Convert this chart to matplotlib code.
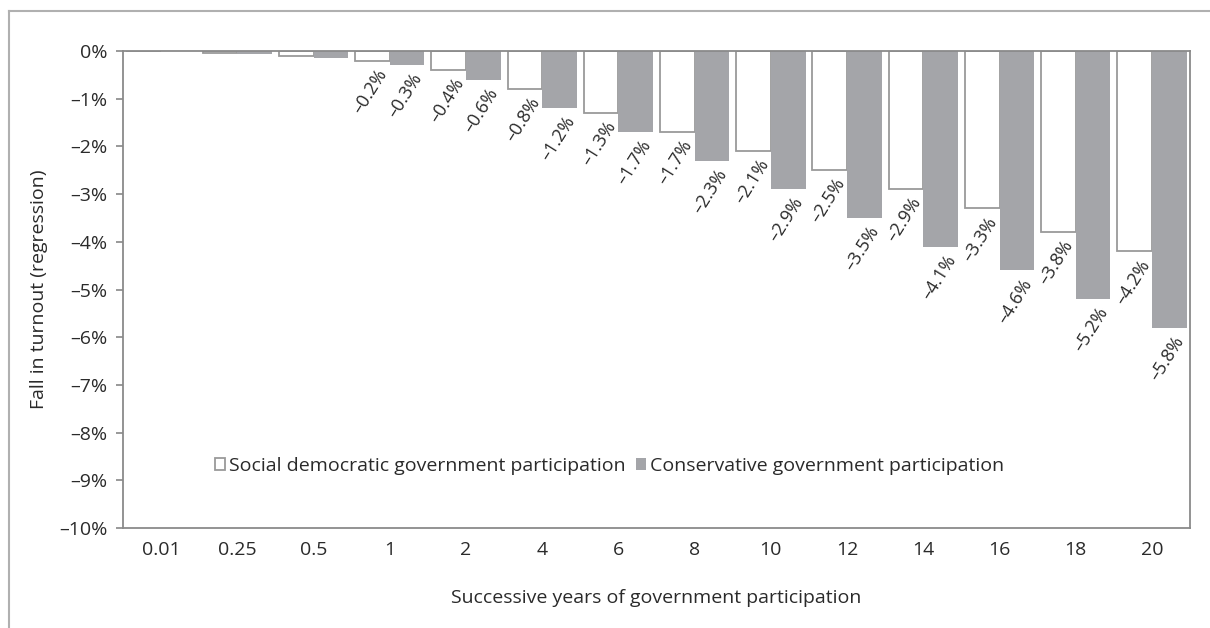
import matplotlib
matplotlib.use('Agg')
import matplotlib.pyplot as plt
import numpy as np
from matplotlib.lines import Line2D
from matplotlib.ticker import FixedLocator, FuncFormatter

plt.rcParams['font.family'] = ['Open Sans', 'DejaVu Sans']

years = ['0.01', '0.25', '0.5', '1', '2', '4', '6', '8', '10', '12', '14', '16', '18', '20']
social_dem = [-0.002, -0.05, -0.1, -0.2, -0.4, -0.8, -1.3, -1.7, -2.1, -2.5, -2.9, -3.3, -3.8, -4.2]
conservative = [-0.003, -0.07, -0.15, -0.3, -0.6, -1.2, -1.7, -2.3, -2.9, -3.5, -4.1, -4.6, -5.2, -5.8]
first_labelled = 3  # the tiny bars at 0.01/0.25/0.5 years carry no label

fs = 14
gray_fill = '#a4a5a9'
edge = '#9a9a9a'
txt = '#2a2a2a'

fig = plt.figure(figsize=(12.1, 6.28), dpi=100)
ax = fig.add_axes([0.1017, 0.1592, 0.8818, 0.7596])

x = np.arange(len(years))
w = 0.455
ax.bar(x - w / 2, social_dem, width=w, color='white', edgecolor=edge, linewidth=1.3,
       label='Social democratic government participation')
ax.bar(x + w / 2, conservative, width=w, color=gray_fill, edgecolor='none',
       label='Conservative government participation')

def pct(v):
    s = '%.1f%%' % abs(v)
    return ('\u2013' + s) if v < 0 else s

for i in range(first_labelled, len(years)):
    for xc, v in ((x[i] - w / 2, social_dem[i]), (x[i] + w / 2, conservative[i])):
        ax.annotate(pct(v), xy=(xc, v), xytext=(8, -7), textcoords='offset points',
                    rotation=58, rotation_mode='anchor', ha='right', va='center',
                    fontsize=fs - 1, color=txt)

ax.set_xlim(-0.5, len(years) - 0.5)
ax.set_ylim(-10, 0)
ax.yaxis.set_major_locator(FixedLocator(np.arange(-10, 1, 1)))
ax.yaxis.set_major_formatter(FuncFormatter(lambda v, p: '%d%%' % v if v == 0 else '\u2013%d%%' % abs(v)))
ax.set_xticks(x)
ax.set_xticklabels(years)
ax.tick_params(axis='x', length=0, pad=9, labelsize=fs, colors=txt)
ax.tick_params(axis='y', length=5, width=1.2, color='#888888', pad=6, labelsize=fs, labelcolor=txt)
for sp in ax.spines.values():
    sp.set_color('#8a8a8a')
    sp.set_linewidth(1.3)

ax.set_ylabel('Fall in turnout (regression)', fontsize=fs, color=txt, labelpad=8)
ax.set_xlabel('Successive years of government participation', fontsize=fs, color=txt, labelpad=22)

leg = ax.legend(loc='center', bbox_to_anchor=(0.456, 0.13), ncol=2, frameon=False,
                fontsize=fs, handlelength=0.55, handleheight=0.55, handletextpad=0.2,
                columnspacing=0.5)
for t in leg.get_texts():
    t.set_color(txt)

# outer frame lines
fig.add_artist(Line2D([9 / 1210, 1], [1 - 11 / 628, 1 - 11 / 628], transform=fig.transFigure,
                      color='#b0b0b0', linewidth=1.5))
fig.add_artist(Line2D([9 / 1210, 9 / 1210], [0, 1 - 11 / 628], transform=fig.transFigure,
                      color='#b0b0b0', linewidth=1.5))

fig.savefig('out.png', dpi=100)
plt.close(fig)
